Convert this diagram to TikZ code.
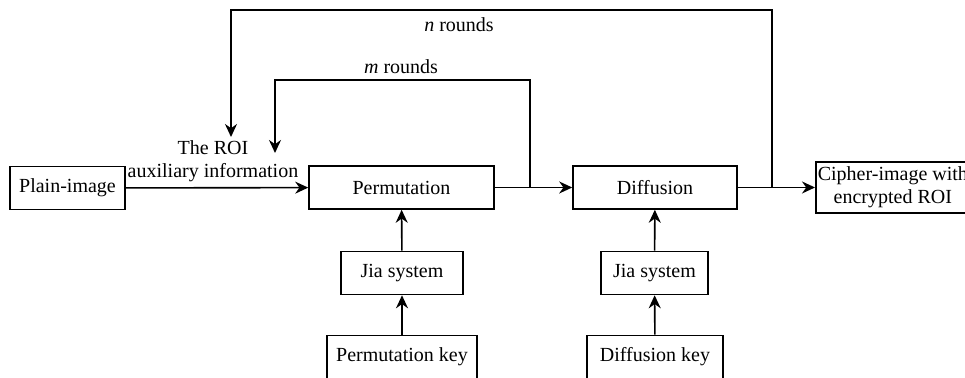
\documentclass[tikz,border=0pt]{standalone}
\usepackage{fontspec}
\setmainfont{Liberation Serif}
\usetikzlibrary{arrows.meta}

\begin{document}
\begin{tikzpicture}[x=0.5pt,y=0.5pt,line width=0.8pt,
	blk/.style={draw,inner sep=0,minimum height=21.5pt},
	arr/.style={-{Stealth[length=6.5pt,width=6pt]}}]
	\useasboundingbox (0,0) rectangle (965,378);
	\node[blk,minimum width=57.5pt] (plain) at (67.5,190) {Plain-image};
	\node[blk,minimum width=92.5pt] (perm) at (401.5,190.5) {Permutation};
	\node[blk,minimum width=82pt] (diff) at (655,190.5) {Diffusion};
	\node[draw,anchor=west,align=center,inner xsep=1pt,inner ysep=0,minimum width=77pt,minimum height=25.5pt] (cipher) at (815,190.5) {Cipher-image with\\[-0.5pt]encrypted ROI};
	\node[blk,minimum width=61pt] (jia1) at (402,105) {Jia system};
	\node[blk,minimum width=53.5pt] (jia2) at (654.5,105) {Jia system};
	\node[blk,minimum width=75pt] (pkey) at (402,21) {Permutation key};
	\node[blk,minimum width=68pt] (dkey) at (655,21) {Diffusion key};
	\node[align=center,inner sep=0] (roi) at (213,217) {The ROI\\[-0.5pt]auxiliary information};
	\node[inner sep=0] (nlab) at (459,353) {\textit{n} rounds};
	\node[inner sep=0] (mlab) at (401,311) {\textit{m} rounds};
	\coordinate (mtap) at (530,190.5);
	\coordinate (mend) at (275,225);
	\coordinate (ntap) at (772,190.5);
	\coordinate (nend) at (231,241);
	\draw[arr] (plain) -- (perm);
	\draw[arr] (perm) -- (diff);
	\draw[arr] (diff) -- (cipher);
	\draw[arr] (jia1) -- (perm);
	\draw[arr] (jia2) -- (diff);
	\draw[arr] (pkey) -- (jia1);
	\draw[arr] (dkey) -- (jia2);
	\draw[arr] (mtap) -- (530,298) -- (275,298) -- (mend);
	\draw[arr] (ntap) -- (772,368) -- (231,368) -- (nend);
\end{tikzpicture}
\end{document}
